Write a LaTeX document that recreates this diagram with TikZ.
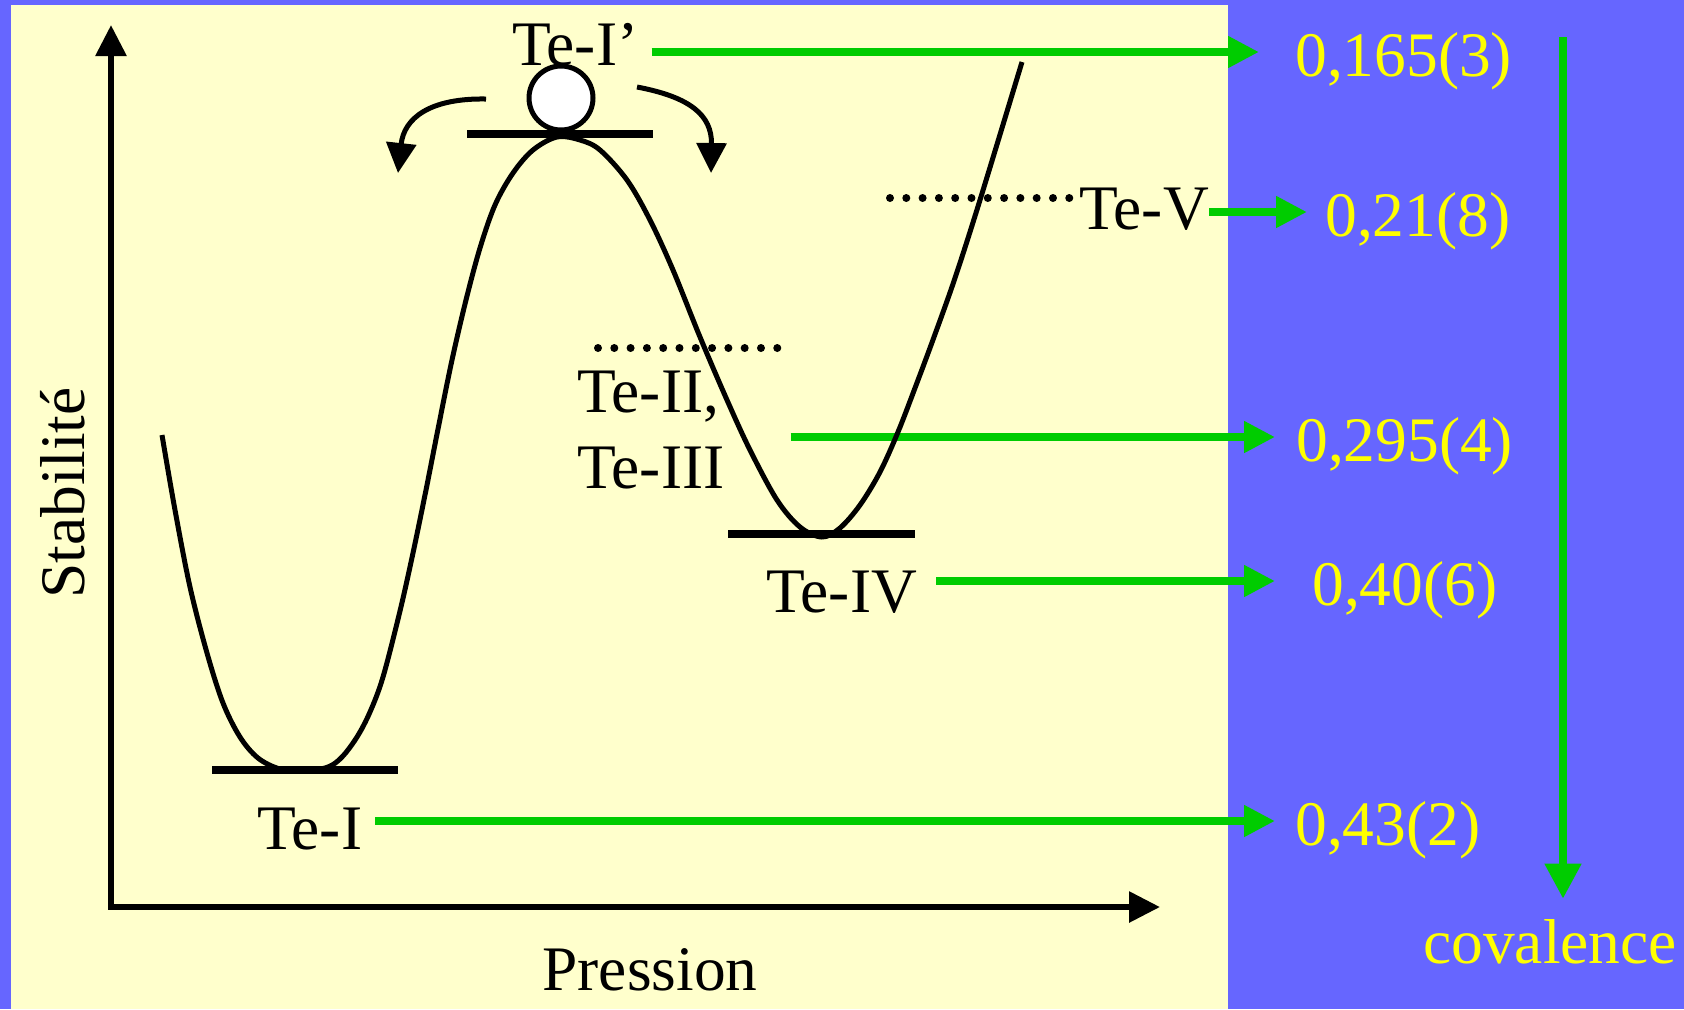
\documentclass[tikz,border=0pt]{standalone}
\usepackage{fontspec}
\setmainfont{Liberation Serif}
\usetikzlibrary{arrows.meta}
\definecolor{bgblue}{HTML}{6666FF}
\definecolor{bgyellow}{HTML}{FFFFCC}
\definecolor{arrgreen}{HTML}{00CC00}
\definecolor{valyellow}{HTML}{FFFF00}
\tikzset{
  lab/.style={inner sep=0pt, font=\fontsize{36.1}{43}\selectfont},
  val/.style={lab, text=valyellow, anchor=west, text height=0.98cm, text depth=0cm},
  axis/.style={{Triangle[length=0.62cm, width=0.6cm]}-{Triangle[length=0.62cm, width=0.6cm]}, line width=0.12cm},
  pot/.style={line width=0.1cm, line join=round},
  level/.style={line width=0.15cm},
  dots/.style={line width=0.16cm, line cap=round, dash pattern=on 0pt off 0.326cm},
  gflow/.style={-{Triangle[length=0.62cm, width=0.6cm]}, line width=0.155cm, draw=arrgreen},
  roll/.style={-{Triangle[length=0.6cm, width=0.59cm]}, line width=0.1cm},
  ball/.style={circle, draw, line width=0.1cm, fill=white, minimum size=1.28cm, inner sep=0pt},
}
\begin{document}
\begin{tikzpicture}[x=0.02cm, y=-0.02cm]
  \fill[bgblue] (0,0) rectangle (1684,1009);
  \fill[bgyellow] (11,5) rectangle (1228,1009);

  \node (teIp) [lab, anchor=base west] at (512,65) {Te-I’};
  \node (teV) [lab, anchor=base west] at (1079,229) {Te-V};
  \node (teII) [lab, anchor=base west] at (577,412) {Te-II,};
  \node (teIII) [lab, anchor=base west] at (577,488) {Te-III};
  \node (teIV) [lab, anchor=base west] at (766,612) {Te-IV};
  \node (teI) [lab, anchor=base west] at (257,849) {Te-I};
  \node (press) [lab, anchor=base] at (650,990) {Pression};
  \node (stab) [lab, rotate=90, anchor=base] at (84,493) {Stabilité};

  \node (v165) [val] at (1295,52) {0,165(3)};
  \node (v21) [val] at (1325,212) {0,21(8)};
  \node (v295) [val] at (1296,437) {0,295(4)};
  \node (v40) [val] at (1312,581) {0,40(6)};
  \node (v43) [val] at (1295,821) {0,43(2)};
  \node (cov) [lab, text=valyellow, anchor=base west] at (1423,963) {covalence};

  \draw[gflow, shorten <=0.26cm, shorten >=0.72cm] (teIp.east |- v165.west) -- (v165.west);
  \draw[gflow, shorten >=0.36cm] (teV.east |- v21.west) -- (v21.west);
  \draw[gflow, shorten <=1.32cm, shorten >=0.42cm] (teIII.east |- v295.west) -- (v295.west);
  \draw[gflow, shorten <=0.38cm, shorten >=0.74cm] (teIV.east |- v40.west) -- (v40.west);
  \draw[gflow, shorten <=0.26cm, shorten >=0.4cm] (teI.east |- v43.west) -- (v43.west);
  \coordinate (covtop) at (1563,37);
  \draw[gflow, -{Triangle[length=0.7cm, width=0.7cm]}, shorten >=0.4cm] (covtop) -- (covtop |- cov.north);

  \draw[pot] plot[smooth, tension=0.55] coordinates {
    (162,435) (175,510) (190,587) (207,653) (223,703) (240,737) (258,758)
    (280,769) (305,771) (328,767) (342,757) (357,737) (370,712) (383,677)
    (400,611) (413,553) (426,490) (439,424) (452,360) (466,300) (480,248)
    (495,205) (513,173) (533,150) (557,137) (580,140) (600,150) (627,180)
    (650,220) (673,270) (700,337) (727,400) (750,450) (777,500) (800,527)
    (822,537) (840,528) (860,505) (880,472) (898,432) (915,388) (934,337)
    (955,278) (980,200) (1022,62)};
  \draw[level] (212,770) -- (398,770);
  \draw[level] (467,134) -- (653,134);
  \draw[level] (728,534) -- (915,534);
  \draw[dots] (890,198) -- (1070,198);
  \draw[dots] (598,348) -- (778,348);

  \node (bille) [ball] at (561,98) {};
  \coordinate (rolL) at (486,99);
  \coordinate (rolR) at (637,87);
  \draw[roll] (rolL) .. controls (430,98) and (404,118) .. (398,173);
  \draw[roll] (rolR) .. controls (690,97) and (712,115) .. (711,173);

  \draw[axis] (111,25) -- (111,907) -- (1160,907);
\end{tikzpicture}
\end{document}
